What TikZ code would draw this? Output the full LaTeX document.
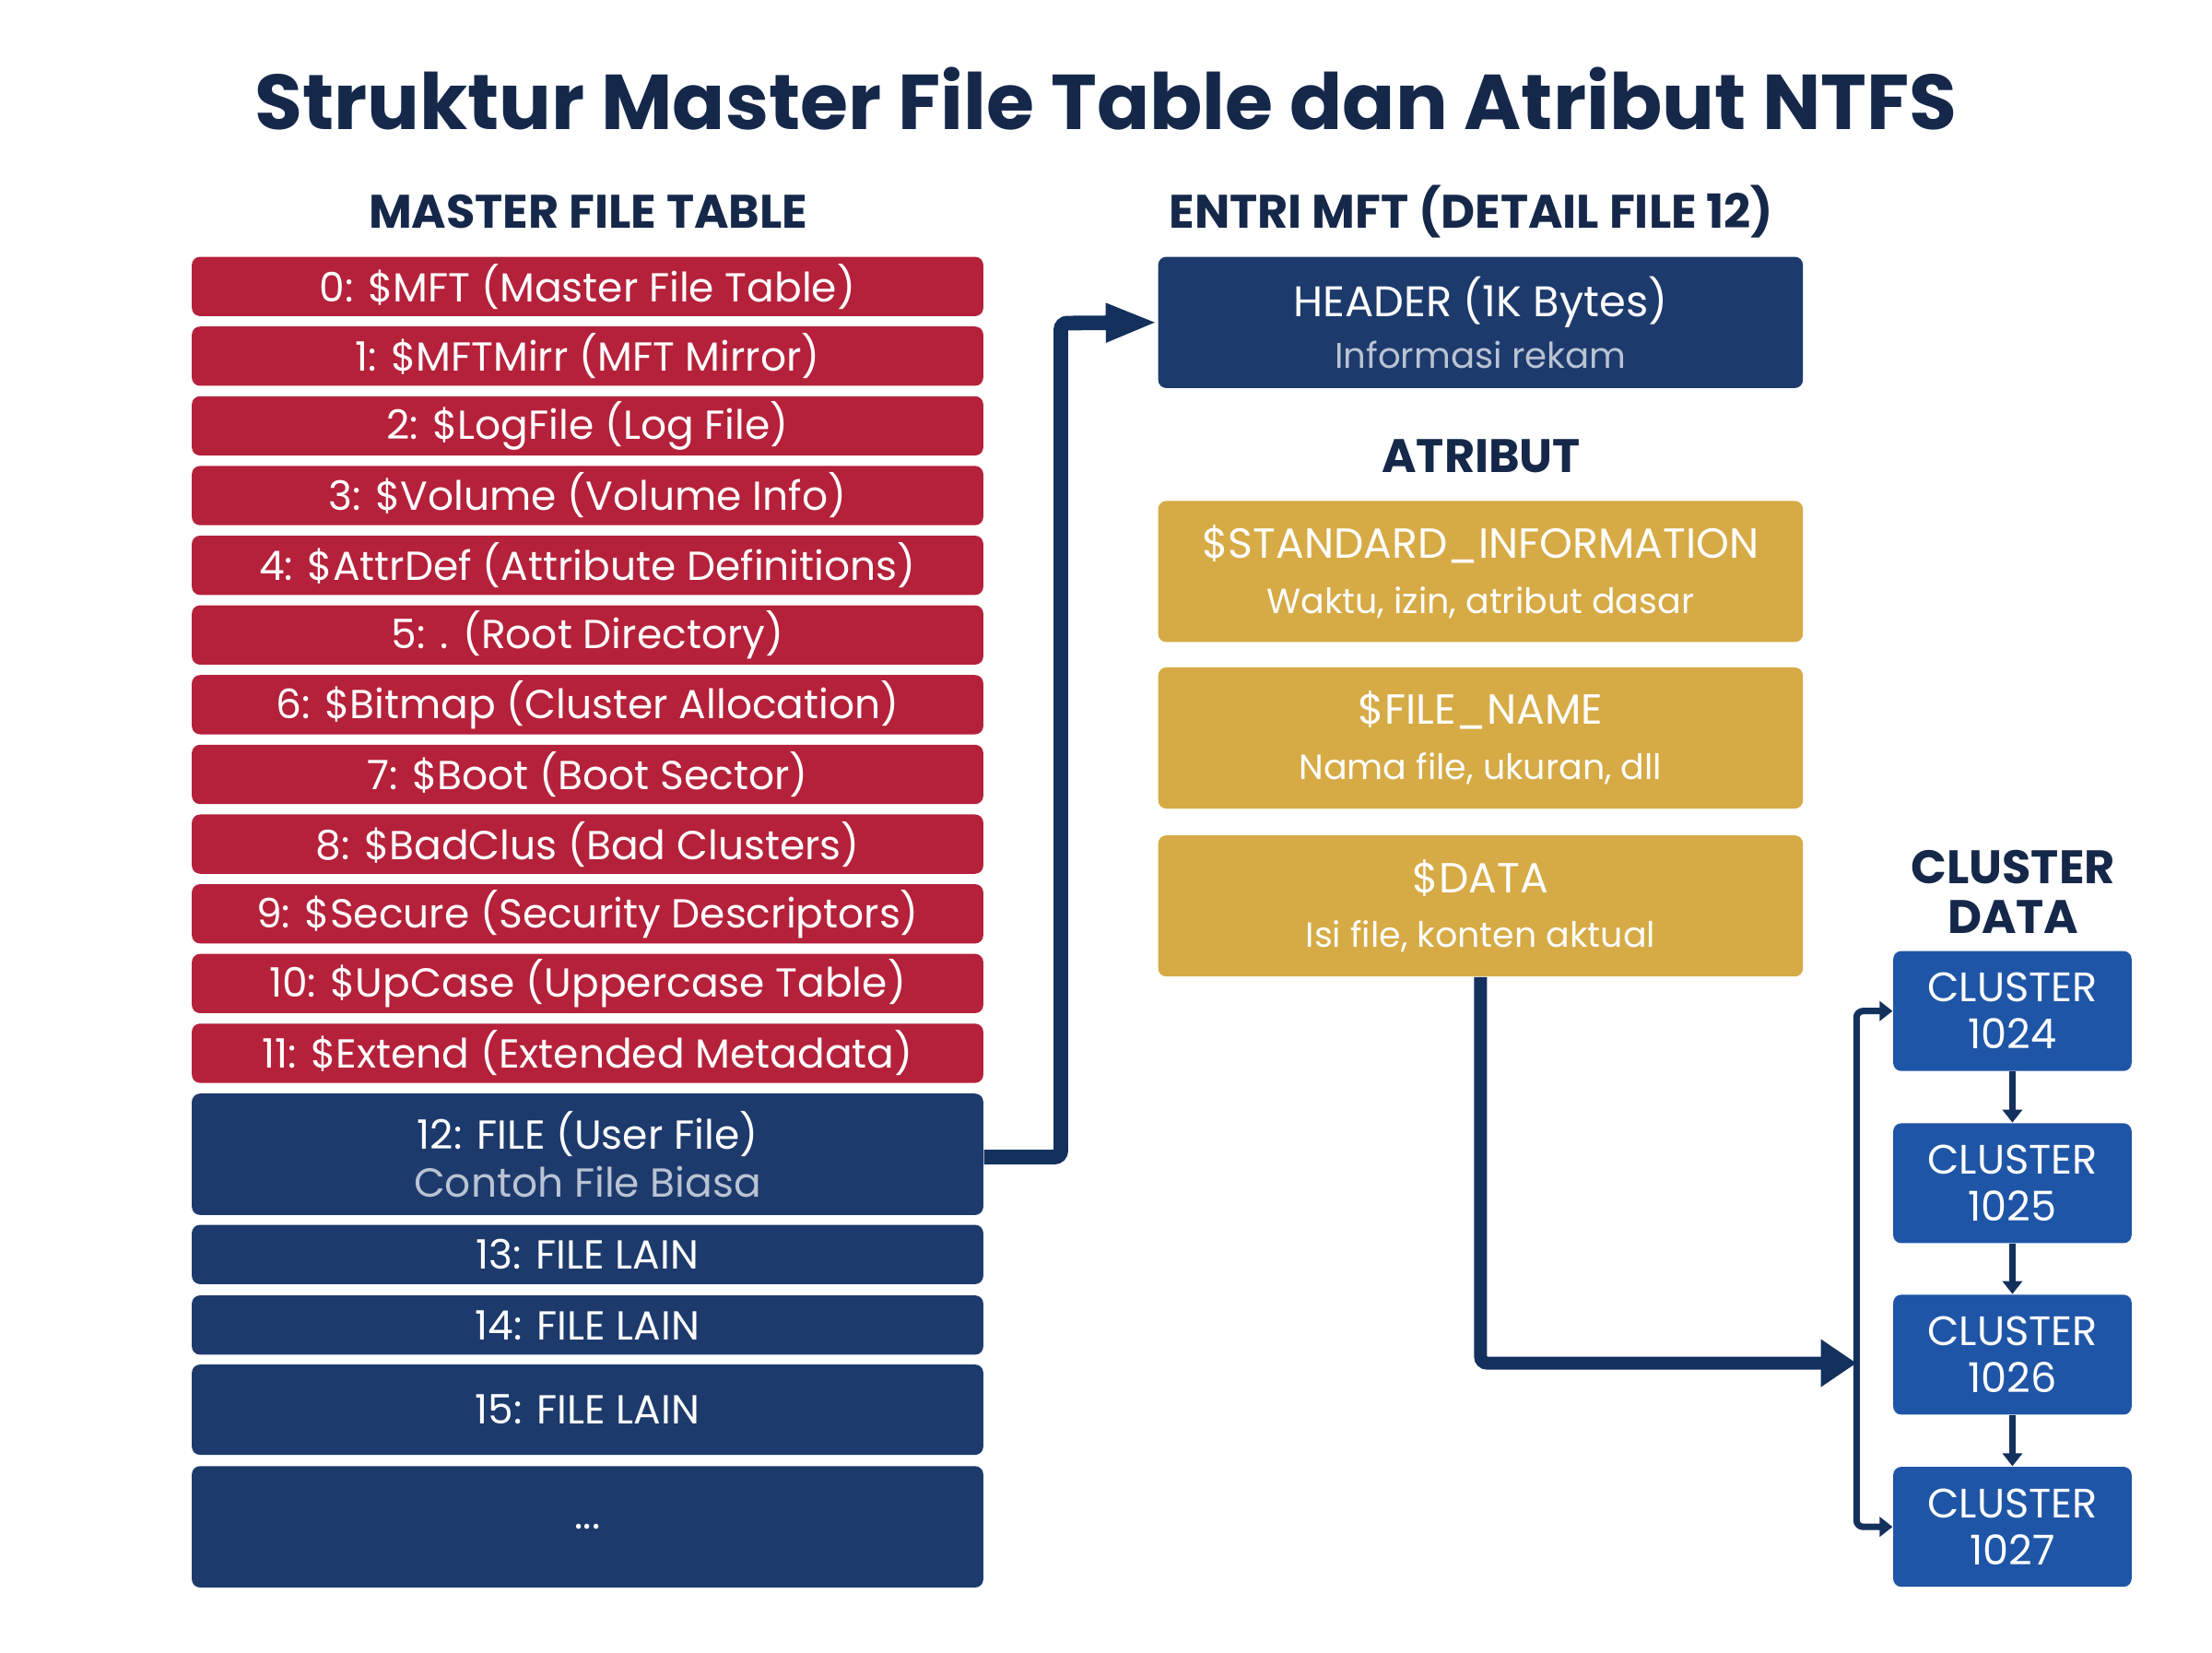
\documentclass[tikz,border=0pt]{standalone}
\usepackage{fontspec}
\setmainfont{Poppins}
\usetikzlibrary{arrows.meta}
\definecolor{mred}{HTML}{B5213A}
\definecolor{mnavy}{HTML}{1D3A6C}
\definecolor{mgold}{HTML}{D6AA45}
\definecolor{mblue}{HTML}{1F55A6}
\definecolor{marrow}{HTML}{14305D}
\definecolor{mtitle}{HTML}{15284A}
\definecolor{msub}{HTML}{B9C3D3}
\def\u{0.01531cm}
\tikzset{
 box/.style={rounded corners=2.5pt,text=white,align=center,inner sep=0pt,minimum width=561*\u},
 redrow/.style={box,fill=mred,minimum height=42*\u,font=\fontsize{12.5}{14}\selectfont},
 navyrow/.style={box,fill=mnavy,font=\fontsize{12.5}{14}\selectfont},
 attr/.style={box,fill=mgold,minimum width=457*\u,minimum height=100*\u,font=\fontsize{13}{17}\selectfont},
 clus/.style={box,fill=mblue,minimum width=169*\u,minimum height=85*\u,font=\fontsize{12.7}{14.5}\selectfont},
 head/.style={text=mtitle,font=\bfseries\fontsize{14.5}{17}\selectfont,align=center},
 bigarrow/.style={draw=marrow,line width=4.5pt,rounded corners=2pt},
 thin/.style={draw=marrow,line width=2pt,-{Triangle[length=4pt,width=6pt]}},
}
\begin{document}
\begin{tikzpicture}[x=\u,y=-\u]
\useasboundingbox[fill=white] (0,0) rectangle (1568,1171);
\node[text=mtitle,font=\bfseries\fontsize{24}{28}\selectfont] (title) at (784,70) {Struktur Master File Table dan Atribut NTFS};
\node[head] (hmft) at (417,150) {MASTER FILE TABLE};
\node[head] (hent) at (1043,150) {ENTRI MFT (DETAIL FILE 12)};
\node[head] (hatr) at (1050,323) {ATRIBUT};
\node[head,font=\bfseries\fontsize{14.5}{15.5}\selectfont] (hclu) at (1427,632) {CLUSTER\\DATA};
\foreach \i/\t in {0/{0: \$MFT (Master File Table)},1/{1: \$MFTMirr (MFT Mirror)},2/{2: \$LogFile (Log File)},3/{3: \$Volume (Volume Info)},4/{4: \$AttrDef (Attribute Definitions)},5/{5: . (Root Directory)},6/{6: \$Bitmap (Cluster Allocation)},7/{7: \$Boot (Boot Sector)},8/{8: \$BadClus (Bad Clusters)},9/{9: \$Secure (Security Descriptors)},10/{10: \$UpCase (Uppercase Table)},11/{11: \$Extend (Extended Metadata)}}
  \node[redrow] (r\i) at (416.5,{203+49.4*\i}) {\t};
\node[navyrow,minimum height=86*\u] (r12) at (416.5,818) {12: FILE (User File)\\[1pt]\textcolor{msub}{Contoh File Biasa}};
\node[navyrow,minimum height=42*\u] (r13) at (416.5,889) {13: FILE LAIN};
\node[navyrow,minimum height=42*\u] (r14) at (416.5,939) {14: FILE LAIN};
\node[navyrow,minimum height=64*\u] (r15) at (416.5,999) {15: FILE LAIN};
\node[navyrow,minimum height=86*\u] (r16) at (416.5,1082) {...};
\node[box,fill=mnavy,minimum width=457*\u,minimum height=93*\u,font=\fontsize{13.2}{16}\selectfont] (hdr) at (1049.5,228.5) {HEADER (1K Bytes)\\\textcolor{msub}{\fontsize{11}{13}\selectfont Informasi rekam}};
\node[attr] (a1) at (1049.5,405) {\$STANDARD\_INFORMATION\\{\fontsize{10.8}{13}\selectfont Waktu, izin, atribut dasar}};
\node[attr] (a2) at (1049.5,523) {\$FILE\_NAME\\{\fontsize{10.8}{13}\selectfont Nama file, ukuran, dll}};
\node[attr] (a3) at (1049.5,642) {\$DATA\\{\fontsize{10.8}{13}\selectfont Isi file, konten aktual}};
\node[clus] (c0) at (1426.5,716.5) {CLUSTER\\1024};
\node[clus] (c1) at (1426.5,838.5) {CLUSTER\\1025};
\node[clus] (c2) at (1426.5,960) {CLUSTER\\1026};
\node[clus] (c3) at (1426.5,1082) {CLUSTER\\1027};
\coordinate (bus) at (1316,966);
\draw[bigarrow,-{Triangle[length=16pt,width=11pt]}] (r12.east|-0,820) -| (752,229) -- (hdr.west);
\draw[bigarrow,line width=4pt,-{Triangle[length=11pt,width=14pt]}] (a3.south) |- (bus);
\draw[draw=marrow,line width=2pt,rounded corners=2pt,{Triangle[length=4pt,width=6pt]}-{Triangle[length=4pt,width=6pt]}] (c0.west) -| (bus) |- (c3.west);
\draw[thin] (c0) -- (c1);
\draw[thin] (c1) -- (c2);
\draw[thin] (c2) -- (c3);
\end{tikzpicture}
\end{document}
